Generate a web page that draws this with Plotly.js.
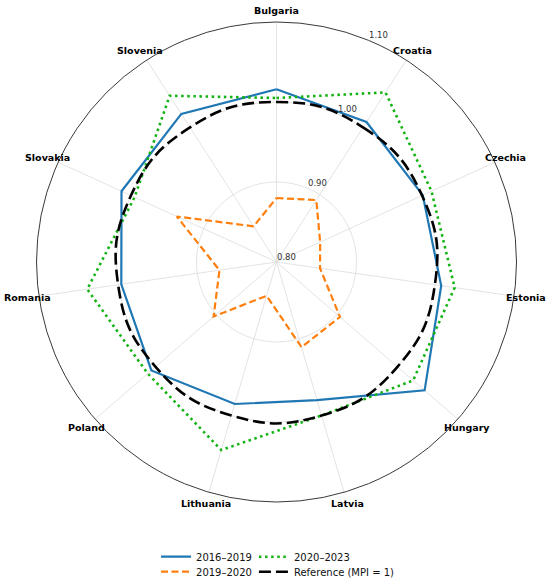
<!DOCTYPE html>
<html>
<head>
<meta charset="utf-8">
<script src="https://cdn.plot.ly/plotly-3.0.1.min.js"></script>
<style>
html,body{margin:0;padding:0;background:#fff;}
#chart{width:550px;height:580px;}
</style>
</head>
<body>
<div id="chart"></div>
<script>
// Categories (clockwise from top)
const categories = ["Bulgaria","Croatia","Czechia","Estonia","Hungary","Latvia","Lithuania","Poland","Romania","Slovakia","Slovenia"];

// Series values (MPI)
const mpi2016_2019 = [1.016, 1.008, 1.001, 1.008, 1.045, 0.980, 0.985, 1.007, 0.996, 1.013, 1.020];
const mpi2019_2020 = [0.880, 0.892, 0.860, 0.855, 0.905, 0.911, 0.844, 0.904, 0.872, 0.937, 0.853];
const mpi2020_2023 = [1.005, 1.052, 1.013, 1.025, 1.026, 1.000, 1.045, 1.013, 1.039, 0.995, 1.047];
const referenceMPI = [1, 1, 1, 1, 1, 1, 1, 1, 1, 1, 1];

// Radial ticks
const radialTickVals = [0.80, 0.90, 1.00, 1.10];
const radialTickText = ["0.80", "0.90", "1.00", "1.10"];
const radialRange = [0.8, 1.1];

const seriesNames = ["2016–2019", "2019–2020", "2020–2023", "Reference (MPI = 1)"];

function closed(arr){ return arr.concat([arr[0]]); }

const FONT = "DejaVu Sans, Liberation Sans, sans-serif";
const W = 550, H = 580;
// polar geometry (pixels)
const CX = 276.5, CY = 262, R = 240, LABEL_R = 252;
const RLABEL_ANGLE = 22.5 * Math.PI / 180; // clockwise from top
const RLABEL_DX = 10, RLABEL_DY = -5;

const traces = [
  {
    type: "scatterpolar", mode: "lines", name: seriesNames[0],
    theta: closed(categories), r: closed(mpi2016_2019),
    line: {color: "#1f77b4", width: 2.2},
    legend: "legend"
  },
  {
    type: "scatterpolar", mode: "lines", name: seriesNames[1],
    theta: closed(categories), r: closed(mpi2019_2020),
    line: {color: "#ff7f0e", width: 2.2, dash: "7px,3.5px"},
    legend: "legend2"
  },
  {
    type: "scatterpolar", mode: "lines", name: seriesNames[2],
    theta: closed(categories), r: closed(mpi2020_2023),
    line: {color: "#12b312", width: 2.6, dash: "2.5px,3.6px"},
    legend: "legend3"
  },
  {
    type: "scatterpolar", mode: "lines", name: seriesNames[3],
    theta: closed(categories), r: closed(referenceMPI),
    line: {color: "#000000", width: 2.6, dash: "12px,5px", shape: "spline", smoothing: 1.3},
    legend: "legend4"
  }
];

function legendAt(x, y){
  return {
    x: x, y: y, xanchor: "left", yanchor: "middle",
    bgcolor: "rgba(0,0,0,0)", borderwidth: 0,
    font: {family: FONT, size: 10, color: "#111"},
    itemwidth: 30
  };
}

// Category labels centred just outside the circle (matplotlib-like placement)
const catAnnotations = categories.map(function(name, i){
  const a = i * 2 * Math.PI / categories.length;
  const px = CX + LABEL_R * Math.sin(a);
  const py = CY - LABEL_R * Math.cos(a);
  return {
    text: name, xref: "paper", yref: "paper",
    x: px / W, y: 1 - py / H, xanchor: "center", yanchor: "middle",
    showarrow: false,
    font: {family: FONT, size: 9.5, color: "#000", weight: "bold"}
  };
});

// Radial tick labels, horizontal, along the 22.5° line
const radAnnotations = radialTickVals.map(function(v, i){
  const rp = (v - radialRange[0]) / (radialRange[1] - radialRange[0]) * R;
  const px = CX + rp * Math.sin(RLABEL_ANGLE) + RLABEL_DX;
  const py = CY - rp * Math.cos(RLABEL_ANGLE) + RLABEL_DY;
  return {
    text: radialTickText[i], xref: "paper", yref: "paper",
    x: px / W, y: 1 - py / H, xanchor: "center", yanchor: "middle",
    showarrow: false,
    font: {family: FONT, size: 8.5, color: "#333"}
  };
});

const layout = {
  width: W, height: H,
  margin: {l: 0, r: 0, t: 0, b: 0, autoexpand: false},
  paper_bgcolor: "#ffffff",
  font: {family: FONT},
  showlegend: true,
  legend: legendAt(0.2837, 1 - 556.7 / H),
  legend2: legendAt(0.2837, 1 - 571.7 / H),
  legend3: legendAt(0.4617, 1 - 556.7 / H),
  legend4: legendAt(0.4617, 1 - 571.7 / H),
  annotations: catAnnotations.concat(radAnnotations),
  polar: {
    domain: {x: [(CX - R)/W, (CX + R)/W], y: [1 - (CY + R)/H, 1 - (CY - R)/H]},
    bgcolor: "#ffffff",
    radialaxis: {
      range: radialRange,
      tickvals: radialTickVals,
      ticktext: radialTickText,
      angle: 67.5,
      showline: false,
      showticklabels: false,
      ticks: "",
      gridcolor: "#dcdcdc",
      gridwidth: 0.8
    },
    angularaxis: {
      type: "category",
      categoryorder: "array",
      categoryarray: categories,
      rotation: 90,
      direction: "clockwise",
      showline: true,
      linecolor: "#222",
      linewidth: 0.9,
      gridcolor: "#dcdcdc",
      gridwidth: 0.8,
      ticks: "",
      showticklabels: false
    }
  }
};

Plotly.newPlot("chart", traces, layout, {displayModeBar: false, staticPlot: true});
</script>
</body>
</html>
